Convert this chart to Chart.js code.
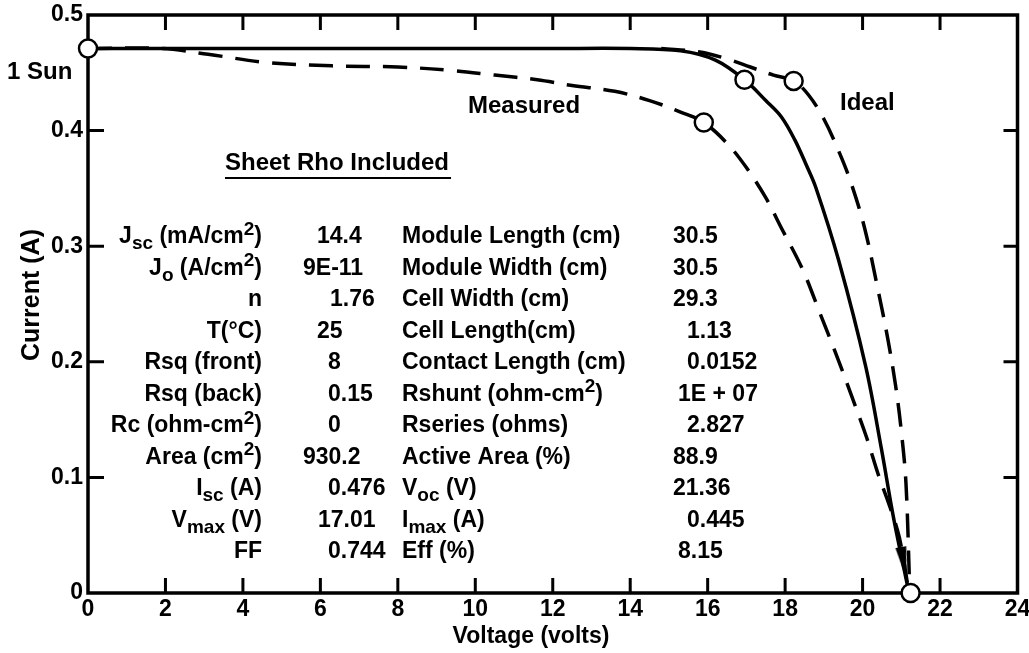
<!DOCTYPE html>
<html>
<head>
    <title>Module I-V Curve</title>
    <script src="https://cdn.jsdelivr.net/npm/chart.js"></script>
    <style>
        body { margin: 0; background: #fff; }
        .wrap { width: 1029px; height: 653px; position: relative; }
    </style>
</head>
<body>
<div class="wrap"><canvas id="ivChart"></canvas></div>

<script>
    // computed curve, sheet rho included (solid)
    const voltsModel = [0, 2, 4, 6, 8, 10, 12, 14, 15.3, 16.2, 16.95, 17.5, 17.9, 18.25, 18.55, 18.79, 19.38, 20.08, 20.49, 20.8, 21.2];
    const ampsModel  = [0.471, 0.471, 0.471, 0.471, 0.471, 0.471, 0.471, 0.471, 0.469, 0.461, 0.444, 0.426, 0.412, 0.392, 0.37, 0.351, 0.288, 0.196, 0.124, 0.065, 0];

    // ideal (dashed, right)
    const voltsIdeal = [14.8, 15.8, 16.5, 17.1, 17.7, 18.22, 18.6, 19.0, 19.4, 19.7, 20.05, 20.4, 20.65, 20.85, 21.0, 21.12, 21.22];
    const ampsIdeal  = [0.471, 0.468, 0.462, 0.455, 0.448, 0.443, 0.431, 0.41, 0.381, 0.355, 0.316, 0.262, 0.22, 0.18, 0.14, 0.095, 0];

    // measured (dashed, left)
    const voltsMeasured = [0, 1.9, 3.1, 4.6, 6.3, 8.0, 9.4, 10.5, 11.6, 12.5, 13.6, 14.5, 15.3, 15.9, 16.5, 17.0, 17.5, 17.9, 18.45, 18.9, 19.3, 19.7, 20.1, 20.4, 20.7, 20.95, 21.2];
    const ampsMeasured  = [0.471, 0.471, 0.466, 0.459, 0.456, 0.455, 0.452, 0.448, 0.444, 0.439, 0.434, 0.426, 0.416, 0.407, 0.389, 0.368, 0.342, 0.316, 0.28, 0.242, 0.208, 0.172, 0.135, 0.103, 0.075, 0.048, 0];

    // open circles: Isc, max power points, Voc
    const markerVolts = [0, 16.95, 18.22, 15.9, 21.24];
    const markerAmps  = [0.471, 0.444, 0.443, 0.407, 0];

    // arrow head on the computed curve
    const arrowVolts = [21.06];
    const arrowAmps  = [0.026];

    const xTicks = { min: 0, max: 24, step: 2 };
    const yTicks = { min: 0, max: 0.5, step: 0.1 };

    // parameter table
    const paramLabels = ['J_{sc} (mA/cm^{2})', 'J_{o} (A/cm^{2})', 'n', 'T(°C)', 'Rsq (front)', 'Rsq (back)',
                         'Rc (ohm-cm^{2})', 'Area (cm^{2})', 'I_{sc} (A)', 'V_{max} (V)', 'FF'];
    const paramValues = ['14.4', '9E-11', '1.76', '25', '8', '0.15', '0', '930.2', '0.476', '17.01', '0.744'];
    const moduleLabels = ['Module Length (cm)', 'Module Width (cm)', 'Cell Width (cm)', 'Cell Length(cm)',
                          'Contact Length (cm)', 'Rshunt (ohm-cm^{2})', 'Rseries (ohms)', 'Active Area (%)',
                          'V_{oc} (V)', 'I_{max} (A)', 'Eff (%)'];
    const moduleValues = ['30.5', '30.5', '29.3', '1.13', '0.0152', '1E + 07', '2.827', '88.9', '21.36', '0.445', '8.15'];

    // layout of the table (pixels)
    const valueX = [317, 303, 330, 317, 328, 328, 328, 303, 328, 318, 328];
    const moduleValueX = [673, 673, 673, 687, 687, 678, 687, 673, 673, 687, 678];

    const FAMILY = '"Liberation Sans", Arial, Helvetica, sans-serif';
    const fontOf = size => `bold ${size}px ${FAMILY}`;

    const toPoints = (xs, ys) => xs.map((x, i) => ({ x, y: ys[i] }));

    // text with _{sub} and ^{sup}
    function richParts(str) {
        const parts = [];
        const re = /([_^])\{([^}]*)\}/g;
        let last = 0, m;
        while ((m = re.exec(str))) {
            if (m.index > last) parts.push({ t: str.slice(last, m.index), k: '' });
            parts.push({ t: m[2], k: m[1] });
            last = re.lastIndex;
        }
        if (last < str.length) parts.push({ t: str.slice(last), k: '' });
        return parts;
    }

    function drawRich(ctx, str, x, y, align, size) {
        const parts = richParts(str);
        const small = Math.round(size * 0.82);
        let w = 0;
        parts.forEach(p => {
            ctx.font = fontOf(p.k ? small : size);
            p.w = ctx.measureText(p.t).width;
            w += p.w;
        });
        let cx = align === 'right' ? x - w : align === 'center' ? x - w / 2 : x;
        ctx.textAlign = 'left';
        ctx.textBaseline = 'middle';
        parts.forEach(p => {
            ctx.font = fontOf(p.k ? small : size);
            const dy = p.k === '_' ? size * 0.3 : p.k === '^' ? -size * 0.33 : 0;
            ctx.fillText(p.t, cx, y + dy);
            cx += p.w;
        });
        return w;
    }

    // elongated arrow head used as point style
    const arrowImg = document.createElement('canvas');
    arrowImg.width = 13;
    arrowImg.height = 32;
    const ac = arrowImg.getContext('2d');
    ac.fillStyle = '#000';
    ac.beginPath();
    ac.moveTo(6.5, 0);
    ac.lineTo(12, 32);
    ac.lineTo(1, 32);
    ac.closePath();
    ac.fill();

    // box frame with inward ticks
    const framePlugin = {
        id: 'frame',
        beforeDatasetsDraw(chart) {
            const { ctx, chartArea: a, scales: { x, y } } = chart;
            ctx.save();
            ctx.strokeStyle = '#000';
            ctx.lineWidth = 3.5;
            ctx.strokeRect(a.left, a.top, a.right - a.left, a.bottom - a.top);
            ctx.lineWidth = 3;
            ctx.beginPath();
            x.ticks.forEach(t => {
                if (t.value <= x.min || t.value >= x.max) return;
                const px = x.getPixelForValue(t.value);
                ctx.moveTo(px, a.bottom); ctx.lineTo(px, a.bottom - 15);
                ctx.moveTo(px, a.top); ctx.lineTo(px, a.top + 15);
            });
            y.ticks.forEach(t => {
                if (t.value <= y.min + 1e-9 || t.value >= y.max - 1e-9) return;
                const py = y.getPixelForValue(t.value);
                ctx.moveTo(a.left, py); ctx.lineTo(a.left + 16, py);
                ctx.moveTo(a.right, py); ctx.lineTo(a.right - 14, py);
            });
            ctx.stroke();
            ctx.restore();
        },
        afterDraw(chart) {
            const { ctx } = chart;
            ctx.save();
            ctx.fillStyle = '#000';
            ctx.strokeStyle = '#000';

            // axis titles
            ctx.font = fontOf(23);
            ctx.textAlign = 'center';
            ctx.textBaseline = 'middle';
            ctx.fillText('Voltage (volts)', 531, 637);
            ctx.save();
            ctx.translate(32, 295);
            ctx.rotate(-Math.PI / 2);
            ctx.font = fontOf(25);
            ctx.fillText('Current (A)', 0, 0);
            ctx.restore();

            // labels on the plot
            drawRich(ctx, '1 Sun', 7, 72, 'left', 24);
            drawRich(ctx, 'Measured', 468, 106, 'left', 24);
            drawRich(ctx, 'Ideal', 840, 103, 'left', 24);
            const w = drawRich(ctx, 'Sheet Rho Included', 225, 163, 'left', 24);
            ctx.lineWidth = 2;
            ctx.beginPath();
            ctx.moveTo(225, 178);
            ctx.lineTo(225 + w + 2, 178);
            ctx.stroke();

            // parameter table
            paramLabels.forEach((lab, i) => {
                const ry = 237 + i * 31.5;
                drawRich(ctx, lab, 262, ry, 'right', 23);
                drawRich(ctx, paramValues[i], valueX[i], ry, 'left', 23);
                drawRich(ctx, moduleLabels[i], 402, ry, 'left', 23);
                drawRich(ctx, moduleValues[i], moduleValueX[i], ry, 'left', 23);
            });
            ctx.restore();
        }
    };

    const lineStyle = {
        borderColor: '#000',
        borderWidth: 3.5,
        pointRadius: 0,
        tension: 0.35
    };

    const ctx = document.getElementById('ivChart').getContext('2d');
    const ivChart = new Chart(ctx, {
        type: 'line',
        data: {
            datasets: [
                {
                    label: 'Points',
                    data: toPoints(markerVolts, markerAmps),
                    showLine: false,
                    pointRadius: 9,
                    pointBackgroundColor: '#fff',
                    pointBorderColor: '#000',
                    pointBorderWidth: 2.5,
                    clip: false
                },
                {
                    label: 'Arrow',
                    data: toPoints(arrowVolts, arrowAmps),
                    showLine: false,
                    pointStyle: arrowImg,
                    pointRotation: 170,
                    clip: false
                },
                Object.assign({ label: 'Computed', data: toPoints(voltsModel, ampsModel) }, lineStyle),
                Object.assign({ label: 'Ideal', data: toPoints(voltsIdeal, ampsIdeal), borderDash: [24, 13] }, lineStyle),
                Object.assign({ label: 'Measured', data: toPoints(voltsMeasured, ampsMeasured), borderDash: [24, 13] }, lineStyle)
            ]
        },
        options: {
            responsive: true,
            maintainAspectRatio: false,
            animation: false,
            events: [],
            layout: { padding: { top: 15, right: 10, left: 0, bottom: 0 } },
            plugins: {
                legend: { display: false },
                tooltip: { enabled: false }
            },
            scales: {
                x: {
                    type: 'linear',
                    min: xTicks.min,
                    max: xTicks.max,
                    grid: { display: false, drawTicks: false },
                    border: { display: false },
                    ticks: {
                        stepSize: xTicks.step,
                        color: '#000',
                        font: { family: FAMILY, size: 23, weight: 'bold' },
                        padding: 3,
                        maxRotation: 0
                    },
                    afterFit(scale) {
                        scale.height = 60;
                        scale.paddingLeft = 0;
                        scale.paddingRight = 0;
                    }
                },
                y: {
                    type: 'linear',
                    min: yTicks.min,
                    max: yTicks.max,
                    grid: { display: false, drawTicks: false },
                    border: { display: false },
                    ticks: {
                        stepSize: yTicks.step,
                        color: '#000',
                        font: { family: FAMILY, size: 23, weight: 'bold' },
                        padding: 5
                    },
                    afterFit(scale) {
                        scale.width = 88;
                        scale.paddingTop = 0;
                        scale.paddingBottom = 0;
                    }
                }
            }
        },
        plugins: [framePlugin]
    });
</script>
</body>
</html>
